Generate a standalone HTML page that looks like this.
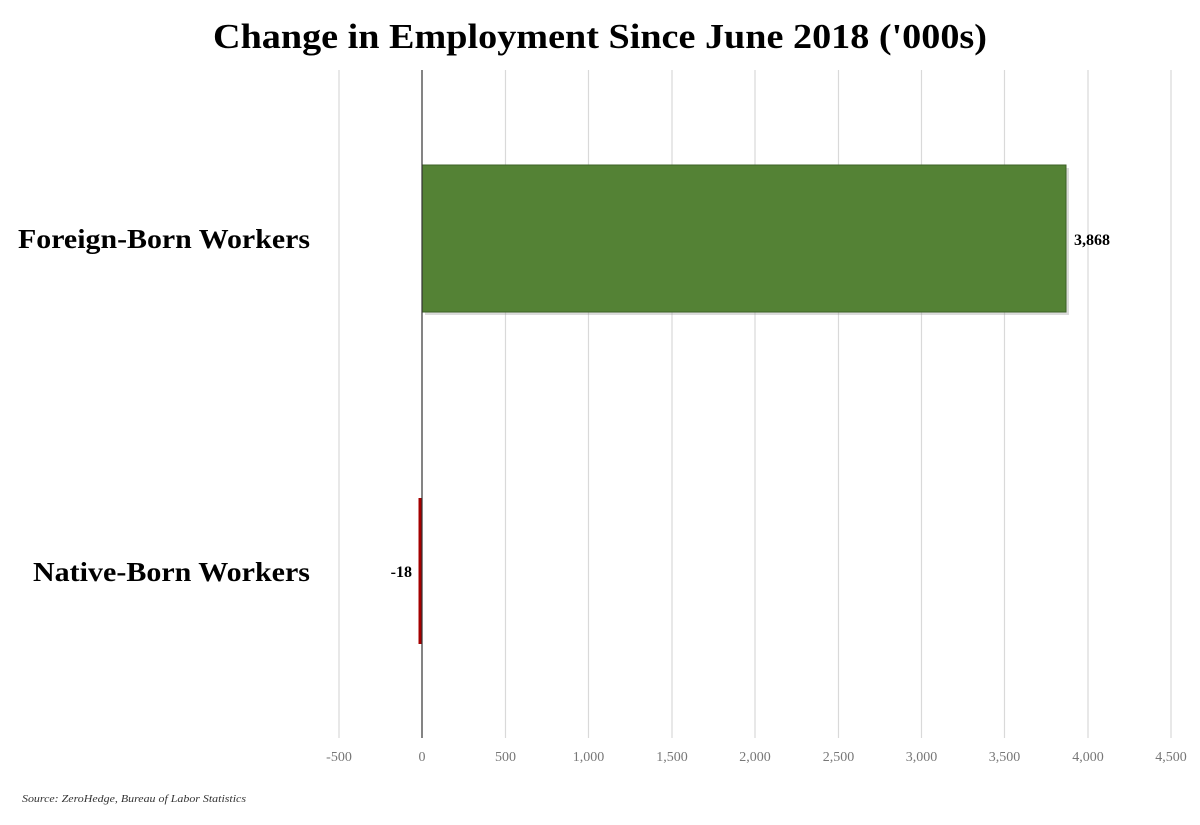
<!DOCTYPE html>
<html><head><style>
body{margin:0;background:#fff;}
</style></head><body>
<svg width="1200" height="820" xmlns="http://www.w3.org/2000/svg" font-family="'Liberation Serif',serif">
<rect width="1200" height="820" fill="#fff"/>
<text x="213" y="48" font-size="35" font-weight="bold" fill="#000" textLength="774" lengthAdjust="spacingAndGlyphs">Change in Employment Since June 2018 ('000s)</text>
<g stroke="#d9d9d9" stroke-width="1.2">
<line x1="339" y1="70" x2="339" y2="738"/>
<line x1="505.5" y1="70" x2="505.5" y2="738"/>
<line x1="588.5" y1="70" x2="588.5" y2="738"/>
<line x1="672" y1="70" x2="672" y2="738"/>
<line x1="755" y1="70" x2="755" y2="738"/>
<line x1="838.5" y1="70" x2="838.5" y2="738"/>
<line x1="921.5" y1="70" x2="921.5" y2="738"/>
<line x1="1004.5" y1="70" x2="1004.5" y2="738"/>
<line x1="1088" y1="70" x2="1088" y2="738"/>
<line x1="1171" y1="70" x2="1171" y2="738"/>
</g>
<rect x="425" y="168" width="644" height="147" fill="#999" opacity="0.35"/>
<rect x="422" y="165" width="644" height="147" fill="#548235" stroke="#3d6126" stroke-width="1"/>
<rect x="418.5" y="498" width="3.5" height="146" fill="#a50000"/>
<line x1="422" y1="70" x2="422" y2="738" stroke="#333" stroke-width="1.2"/>
<g font-size="14" fill="#777" text-anchor="middle">
<text x="339" y="761">-500</text><text x="422" y="761">0</text><text x="505.5" y="761">500</text>
<text x="588.5" y="761">1,000</text><text x="672" y="761">1,500</text><text x="755" y="761">2,000</text>
<text x="838.5" y="761">2,500</text><text x="921.5" y="761">3,000</text><text x="1004.5" y="761">3,500</text>
<text x="1088" y="761">4,000</text><text x="1171" y="761">4,500</text>
</g>
<text x="1074" y="245" font-size="16" font-weight="bold">3,868</text>
<text x="412" y="577" font-size="16" font-weight="bold" text-anchor="end">-18</text>
<text x="18" y="248" font-size="27" font-weight="bold" textLength="292" lengthAdjust="spacingAndGlyphs">Foreign-Born Workers</text>
<text x="33" y="581" font-size="27" font-weight="bold" textLength="277" lengthAdjust="spacingAndGlyphs">Native-Born Workers</text>
<text x="22" y="802" font-size="11" font-style="italic" fill="#333" textLength="224" lengthAdjust="spacingAndGlyphs">Source: ZeroHedge, Bureau of Labor Statistics</text>
</svg>
</body></html>
